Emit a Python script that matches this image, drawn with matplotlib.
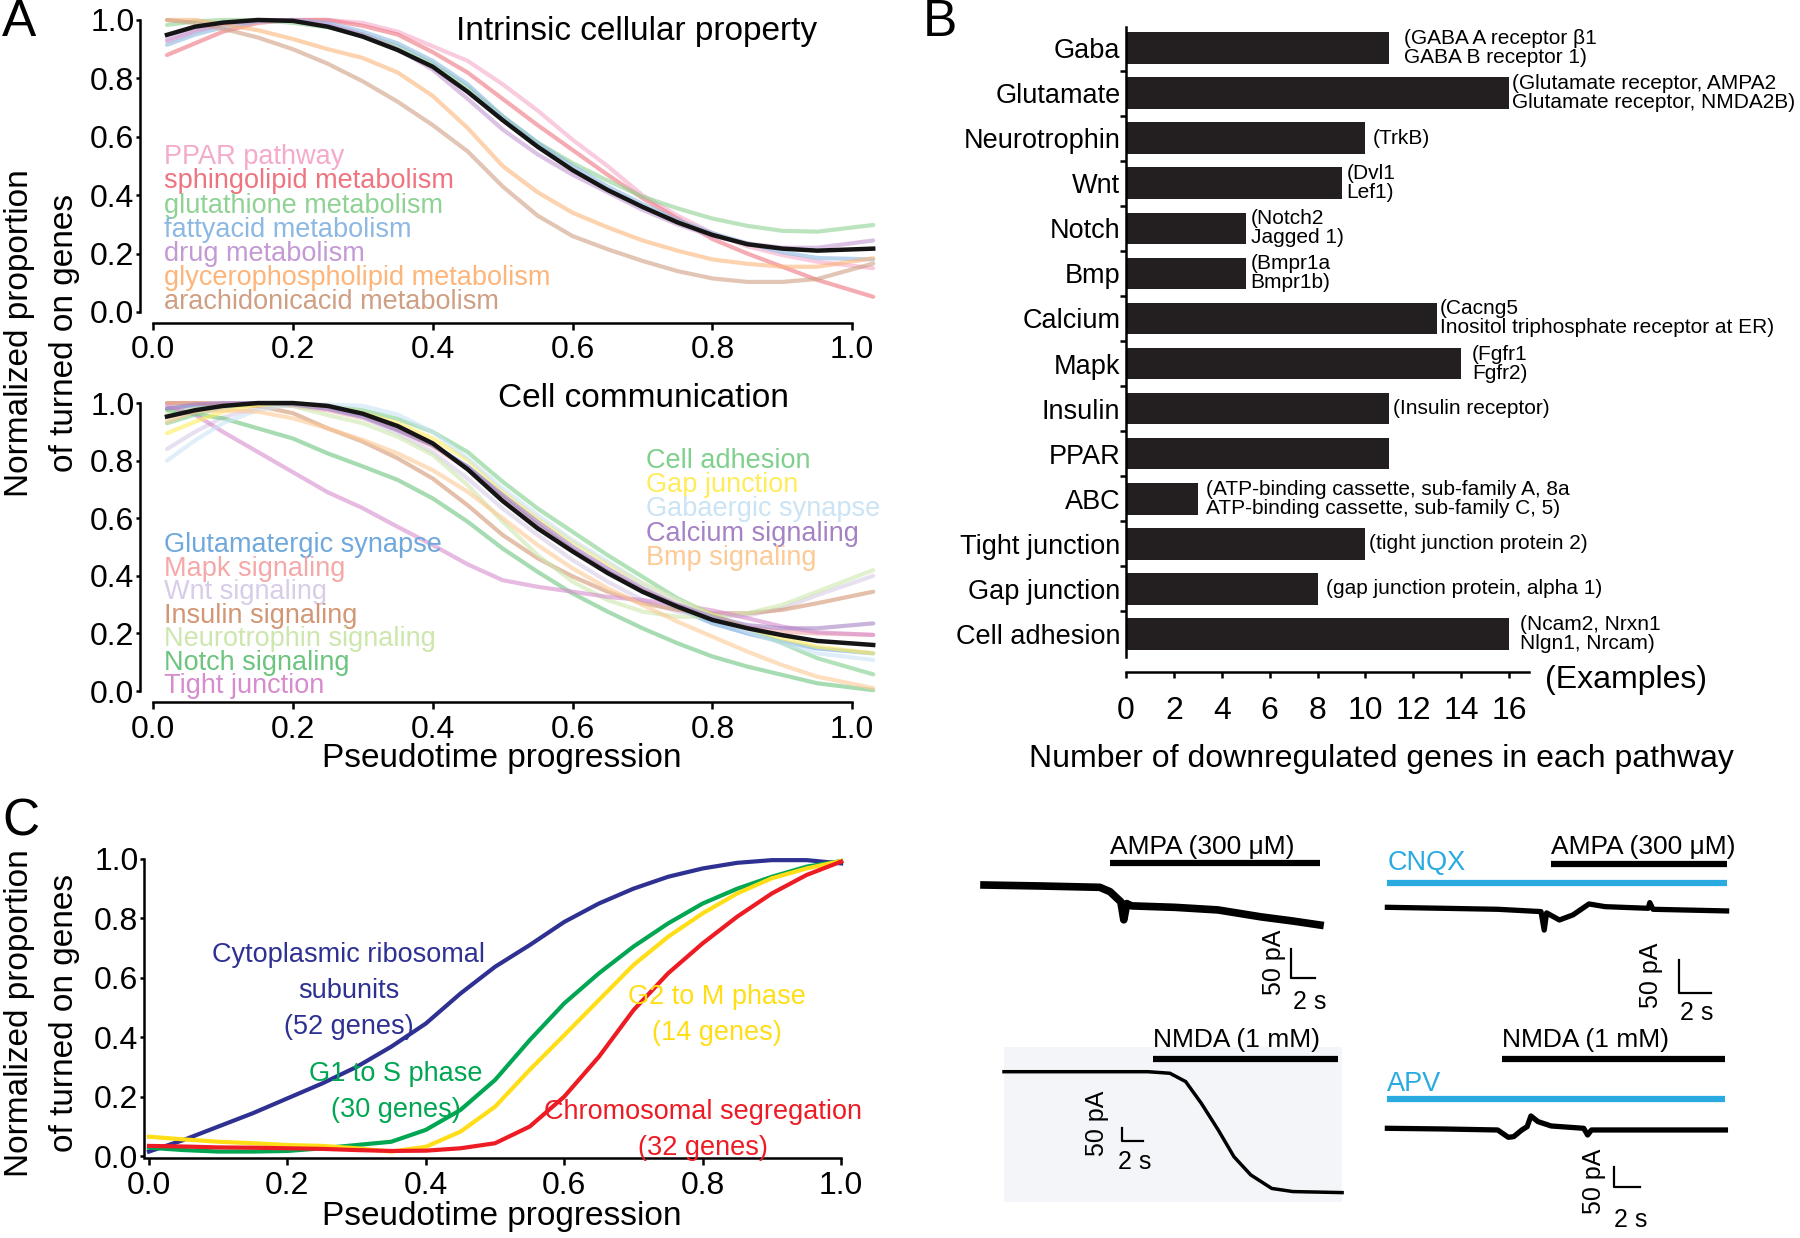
import numpy as np
import matplotlib
matplotlib.use('Agg')
import matplotlib.pyplot as plt

# ---------------- panel A : normalized proportion of turned-on genes ----------------
pseudotime_a = [0.02, 0.06, 0.1, 0.15, 0.2, 0.25, 0.3, 0.35, 0.4, 0.45, 0.5,
                0.55, 0.6, 0.65, 0.7, 0.75, 0.8, 0.85, 0.9, 0.95, 1.03]

intrinsic_names = ['PPAR pathway', 'sphingolipid metabolism', 'glutathione metabolism',
                   'fattyacid metabolism', 'drug metabolism',
                   'glycerophospholipid metabolism', 'arachidonicacid metabolism']
intrinsic_colors = ['#f5a9cb', '#ee7480', '#8fd293', '#8db8e2', '#c39ad4', '#fdb57a', '#cf9f84']
ppar_curve = [0.926, 0.96, 0.985, 1.0, 1.0, 1.0, 0.99, 0.96, 0.91, 0.86, 0.78,
              0.69, 0.59, 0.50, 0.40, 0.33, 0.27, 0.225, 0.195, 0.172, 0.15]
sphingo_curve = [0.88, 0.92, 0.96, 0.99, 1.0, 1.0, 0.98, 0.95, 0.89, 0.82, 0.73,
                 0.64, 0.555, 0.47, 0.39, 0.32, 0.25, 0.2, 0.155, 0.11, 0.052]
glutathione_curve = [0.983, 0.995, 1.0, 1.0, 0.99, 0.975, 0.95, 0.91, 0.85, 0.77, 0.67,
                     0.58, 0.51, 0.45, 0.395, 0.355, 0.32, 0.295, 0.278, 0.275, 0.298]
fattyacid_curve = [0.915, 0.95, 0.975, 0.995, 1.0, 0.99, 0.96, 0.92, 0.86, 0.78, 0.67,
                   0.58, 0.50, 0.43, 0.37, 0.315, 0.27, 0.235, 0.205, 0.185, 0.18]
drug_curve = [0.932, 0.965, 0.985, 0.997, 1.0, 0.985, 0.95, 0.9, 0.83, 0.73, 0.625,
              0.54, 0.47, 0.41, 0.35, 0.30, 0.26, 0.235, 0.22, 0.22, 0.245]
glycero_curve = [1.0, 1.0, 0.985, 0.965, 0.935, 0.90, 0.87, 0.82, 0.74, 0.63, 0.50,
                 0.41, 0.34, 0.29, 0.245, 0.21, 0.18, 0.165, 0.155, 0.155, 0.184]
arachidonic_curve = [1.0, 0.99, 0.97, 0.94, 0.90, 0.85, 0.79, 0.72, 0.64, 0.55, 0.43,
                     0.33, 0.26, 0.215, 0.175, 0.14, 0.115, 0.103, 0.103, 0.113, 0.166]
intrinsic_curves = [ppar_curve, sphingo_curve, glutathione_curve, fattyacid_curve,
                    drug_curve, glycero_curve, arachidonic_curve]
intrinsic_mean = [0.949, 0.977, 0.991, 1.0, 0.997, 0.977, 0.943, 0.897, 0.84, 0.754, 0.657,
                  0.566, 0.486, 0.418, 0.36, 0.307, 0.264, 0.232, 0.217, 0.21, 0.217]

comm_left_names = ['Glutamatergic synapse', 'Mapk signaling', 'Wnt signaling', 'Insulin signaling',
                   'Neurotrophin signaling', 'Notch signaling', 'Tight junction']
comm_left_colors = ['#6fa8dc', '#f6a8a8', '#d8cce8', '#d39674', '#cde6ad', '#6cc47f', '#d68ccd']
comm_right_names = ['Cell adhesion', 'Gap junction', 'Gabaergic synapse', 'Calcium signaling', 'Bmp signaling']
comm_right_colors = ['#7fd08c', '#ffec5c', '#cbe4f5', '#a582c4', '#fdc994']

glutamatergic_curve = [0.981, 0.99, 0.997, 1.0, 0.995, 0.98, 0.953, 0.906, 0.854, 0.779, 0.675,
                       0.577, 0.49, 0.414, 0.345, 0.287, 0.235, 0.2, 0.171, 0.148, 0.131]
mapk_curve = [1.0, 1.0, 1.0, 0.998, 0.99, 0.975, 0.948, 0.905, 0.85, 0.77, 0.67,
              0.575, 0.49, 0.415, 0.35, 0.295, 0.25, 0.222, 0.206, 0.2, 0.195]
wnt_curve = [0.84, 0.9, 0.95, 0.985, 0.995, 0.98, 0.95, 0.895, 0.83, 0.738, 0.634,
             0.542, 0.455, 0.38, 0.316, 0.276, 0.258, 0.262, 0.287, 0.333, 0.40]
insulin_curve = [1.0, 1.0, 0.995, 0.99, 0.965, 0.912, 0.866, 0.808, 0.738, 0.645, 0.542,
                 0.461, 0.398, 0.345, 0.305, 0.282, 0.27, 0.27, 0.282, 0.305, 0.345]
neurotrophin_curve = [0.963, 0.98, 0.99, 0.995, 0.99, 0.958, 0.93, 0.883, 0.82, 0.715, 0.588,
                      0.472, 0.38, 0.316, 0.276, 0.258, 0.258, 0.27, 0.299, 0.345, 0.42]
notch_curve = [0.976, 0.962, 0.947, 0.912, 0.877, 0.825, 0.78, 0.733, 0.669, 0.588, 0.495,
               0.414, 0.339, 0.276, 0.218, 0.166, 0.12, 0.085, 0.056, 0.027, 0.003]
tight_curve = [0.99, 0.96, 0.90, 0.83, 0.76, 0.69, 0.635, 0.57, 0.507, 0.44, 0.385,
               0.362, 0.345, 0.327, 0.316, 0.299, 0.28, 0.253, 0.224, 0.204, 0.195]
adhesion_curve = [0.93, 0.96, 0.985, 1.0, 1.0, 0.99, 0.975, 0.945, 0.90, 0.83, 0.727,
                  0.634, 0.553, 0.472, 0.397, 0.322, 0.264, 0.218, 0.166, 0.114, 0.058]
gap_curve = [0.895, 0.935, 0.97, 0.993, 0.995, 0.99, 0.965, 0.93, 0.877, 0.802, 0.692,
             0.6, 0.519, 0.443, 0.374, 0.316, 0.264, 0.218, 0.183, 0.154, 0.131]
gabaergic_curve = [0.80, 0.87, 0.93, 0.976, 0.995, 0.995, 0.99, 0.96, 0.90, 0.808, 0.704,
                   0.611, 0.524, 0.45, 0.374, 0.316, 0.258, 0.206, 0.166, 0.131, 0.108]
calcium_curve = [0.981, 0.995, 1.0, 1.0, 0.995, 0.98, 0.953, 0.906, 0.854, 0.779, 0.681,
                 0.588, 0.501, 0.426, 0.357, 0.299, 0.258, 0.229, 0.218, 0.218, 0.235]
bmp_curve = [0.935, 0.97, 0.975, 0.97, 0.947, 0.912, 0.872, 0.825, 0.767, 0.692, 0.6,
             0.507, 0.426, 0.357, 0.299, 0.241, 0.189, 0.137, 0.09, 0.05, 0.01]
comm_left_curves = [glutamatergic_curve, mapk_curve, wnt_curve, insulin_curve,
                    neurotrophin_curve, notch_curve, tight_curve]
comm_right_curves = [adhesion_curve, gap_curve, gabaergic_curve, calcium_curve, bmp_curve]
comm_mean = [0.953, 0.975, 0.99, 1.0, 1.0, 0.99, 0.963, 0.92, 0.86, 0.77, 0.66,
             0.565, 0.485, 0.41, 0.345, 0.293, 0.247, 0.218, 0.194, 0.174, 0.16]

# ---------------- panel B : downregulated genes per pathway ----------------
pathways = ['Gaba', 'Glutamate', 'Neurotrophin', 'Wnt', 'Notch', 'Bmp', 'Calcium', 'Mapk',
            'Insulin', 'PPAR', 'ABC', 'Tight junction', 'Gap junction', 'Cell adhesion']
gene_counts = [11, 16, 10, 9, 5, 5, 13, 14, 11, 11, 3, 10, 8, 16]
gene_examples = ['(GABA A receptor \u03b21\nGABA B receptor 1)',
                 '(Glutamate receptor, AMPA2\nGlutamate receptor, NMDA2B)',
                 '(TrkB)',
                 '(Dvl1\nLef1)',
                 '(Notch2\nJagged 1)',
                 '(Bmpr1a\nBmpr1b)',
                 '(Cacng5\nInositol triphosphate receptor at ER)',
                 '(Fgfr1\nFgfr2)',
                 '(Insulin receptor)',
                 '',
                 '(ATP-binding cassette, sub-family A, 8a\nATP-binding cassette, sub-family C, 5)',
                 '(tight junction protein 2)',
                 '(gap junction protein, alpha 1)',
                 '(Ncam2, Nrxn1\nNlgn1, Nrcam)']
# gap between bar end and its note (layout only)
note_gap = [0.6, 0.1, 0.3, 0.2, 0.2, 0.2, 0.1, 0.45, 0.15, 0.0, 0.35, 0.15, 0.35, 0.45]

# ---------------- panel C : cell-cycle / ribosome curves ----------------
pseudotime_c = [0.0, 0.05, 0.1, 0.15, 0.2, 0.25, 0.3, 0.35, 0.4, 0.45, 0.5,
                0.55, 0.6, 0.65, 0.7, 0.75, 0.8, 0.85, 0.9, 0.95, 1.0]
ribosome_curve = [0.015, 0.054, 0.099, 0.144, 0.194, 0.244, 0.3, 0.368, 0.446, 0.547, 0.637,
                  0.71, 0.788, 0.85, 0.9, 0.94, 0.968, 0.987, 0.996, 0.996, 0.985]
g1s_curve = [0.028, 0.02, 0.015, 0.015, 0.017, 0.026, 0.037, 0.048, 0.088, 0.155, 0.256,
             0.39, 0.514, 0.615, 0.705, 0.783, 0.85, 0.9, 0.94, 0.974, 0.993]
g2m_curve = [0.065, 0.056, 0.048, 0.043, 0.037, 0.034, 0.026, 0.015, 0.031, 0.082, 0.166,
             0.29, 0.407, 0.525, 0.643, 0.738, 0.817, 0.884, 0.935, 0.968, 0.993]
chromo_curve = [0.034, 0.032, 0.029, 0.028, 0.026, 0.024, 0.02, 0.017, 0.018, 0.026, 0.043,
                0.099, 0.2, 0.334, 0.491, 0.615, 0.716, 0.806, 0.884, 0.946, 0.991]
cycle_labels = ['Cytoplasmic ribosomal\nsubunits\n(52 genes)', 'G1 to S phase\n(30 genes)',
                'G2 to M phase\n(14 genes)', 'Chromosomal segregation\n(32 genes)']
cycle_colors = ['#2e3192', '#00a651', '#ffde17', '#ed1c24']

# ---------------- electrophysiology traces (time s, current pA) ----------------
ampa_t = [0, 4.7, 9.65, 10.5, 11.4, 11.65, 11.9, 12.3, 15.9, 19.5, 23.1, 25.7, 28.0]
ampa_i = [0, -1.7, -4, -11.5, -29, -60, -32, -36, -38.5, -43, -55, -62, -69]
ampa_on = (10.5, 28.0)

cnqx_t = [0, 3.5, 6.9, 9.6, 9.8, 9.95, 10.75, 11.6, 12.6, 13.6, 16.3, 16.4, 16.6, 21.2]
cnqx_i = [1.5, 0, -1.5, -5, -33, -7, -17.7, -10, 6.6, 2.5, 0, 8.6, -1.5, -4]
cnqx_on = (0, 21.2)
cnqx_ampa_on = (10.25, 21.2)

nmda_t = [0, 13.7, 15.8, 17.3, 18.8, 20.4, 21.9, 23.5, 25.5, 27.5, 32.2]
nmda_i = [0, 0, -6, -38, -122, -224, -327, -397, -449, -461, -465]
nmda_on = (14.2, 31.8)

apv_t = [0, 4.34, 8.48, 9.3, 9.72, 10.34, 10.75, 11.04, 11.58, 12.6, 15.1, 15.4, 15.7, 20.9, 26.0]
apv_i = [0, -1.7, -4.2, -22.5, -20.8, -4.2, 4.2, 30.8, 16.7, 5.8, 0, -16.7, -4.2, -4.2, -4.2]
apv_on = (0, 26.0)
apv_nmda_on = (8.81, 26.0)

# ------------------------------------------------------------------------------
plt.rcParams['font.family'] = ['Liberation Sans', 'DejaVu Sans']
plt.rcParams['axes.linewidth'] = 1.8
plt.rcParams['lines.solid_joinstyle'] = 'round'

W, H = 1800, 1238
fig = plt.figure(figsize=(W / 100, H / 100), dpi=100)


def px_axes(left, top, right, bottom):
    return fig.add_axes([left / W, 1 - bottom / H, (right - left) / W, (bottom - top) / H])


def ftext(x, y, s, **kw):
    fig.text(x / W, 1 - y / H, s, **kw)


def curve_axes(ax, xlim, ylim, xbound0=0):
    ax.set_xlim(*xlim)
    ax.set_ylim(*ylim)
    ax.patch.set_alpha(0)
    for s in ['top', 'right']:
        ax.spines[s].set_visible(False)
    ax.spines['left'].set_bounds(0, 1)
    ax.spines['bottom'].set_bounds(xbound0, 1)
    ticks = [0, 0.2, 0.4, 0.6, 0.8, 1.0]
    ax.set_xticks(ticks)
    ax.set_yticks(ticks)
    ax.set_xticklabels(['%.1f' % t for t in ticks])
    ax.set_yticklabels(['%.1f' % t for t in ticks])
    ax.tick_params(axis='x', length=5, width=1.8, pad=4, labelsize=23)
    ax.tick_params(axis='y', length=3, width=1.8, pad=1, labelsize=23)


# panel A top
axA1 = px_axes(140, 14, 876, 323)
curve_axes(axA1, (-0.0186, 1.034), (-0.0377, 1.0205))
for ys, c in zip(intrinsic_curves, intrinsic_colors):
    axA1.plot(pseudotime_a, ys, color=c, lw=3, alpha=0.6, clip_on=False, solid_capstyle='round')
axA1.plot(pseudotime_a, intrinsic_mean, color='#151515', lw=3.2, clip_on=False)
for i, (name, c) in enumerate(zip(intrinsic_names, intrinsic_colors)):
    axA1.text(0.016, 0.53 - 0.0827 * i, name, color=c, fontsize=19.5, va='center', ha='left')
axA1.text(0.691, 0.962, 'Intrinsic cellular property', fontsize=24, ha='center', va='center')

# panel A bottom
axA2 = px_axes(140, 397, 876, 702)
curve_axes(axA2, (-0.0186, 1.034), (-0.038, 1.021))
for ys, c in zip(comm_left_curves + comm_right_curves, comm_left_colors + comm_right_colors):
    axA2.plot(pseudotime_a, ys, color=c, lw=3, alpha=0.6, clip_on=False, solid_capstyle='round')
axA2.plot(pseudotime_a, comm_mean, color='#151515', lw=3.2, clip_on=False)
for i, (name, c) in enumerate(zip(comm_left_names, comm_left_colors)):
    axA2.text(0.016, 0.507 - 0.0817 * i, name, color=c, fontsize=19.5, va='center', ha='left')
for i, (name, c) in enumerate(zip(comm_right_names, comm_right_colors)):
    axA2.text(0.705, 0.80 - 0.0845 * i, name, color=c, fontsize=19.5, va='center', ha='left')
axA2.text(0.701, 1.017, 'Cell communication', fontsize=24, ha='center', va='center')

ftext(42, 333, 'Normalized proportion\nof turned on genes', rotation=90, fontsize=24,
      ha='center', va='center', linespacing=1.55)
ftext(502, 758, 'Pseudotime progression', fontsize=24, ha='center', va='center')

# panel B
axB = px_axes(1126, 27, 1529, 657)
ypos = np.arange(len(pathways))
axB.barh(ypos, gene_counts, height=0.7, color='#231f20')
axB.set_xlim(0, 16.83)
axB.set_ylim(13.51, -0.466)
axB.patch.set_alpha(0)
for s in ['top', 'right']:
    axB.spines[s].set_visible(False)
axB.spines['bottom'].set_position(('outward', 10.8))
axB.set_xticks(range(0, 17, 2))
axB.tick_params(axis='x', length=4, width=1.8, pad=13, labelsize=23)
axB.set_yticks(ypos)
axB.set_yticklabels(pathways)
axB.tick_params(axis='y', length=0, pad=4, labelsize=19.5)
axB.set_yticks(np.arange(0.5, 13, 1), minor=True)
axB.tick_params(axis='y', which='minor', length=4, width=1.8)
for y, v, note, gap in zip(ypos, gene_counts, gene_examples, note_gap):
    if note:
        axB.text(v + gap, y, note, fontsize=15, va='center', ha='left',
                 linespacing=1.0, clip_on=False)
ftext(1626, 680, '(Examples)', fontsize=23, ha='center', va='center')
ftext(1381, 759, 'Number of downregulated genes in each pathway', fontsize=23,
      ha='center', va='center')

# panel C
axC = px_axes(144, 853, 846, 1158)
curve_axes(axC, (-0.0072, 1.007), (-0.0067, 1.02), xbound0=-0.0072)
for ys, c in zip([ribosome_curve, g1s_curve, g2m_curve, chromo_curve], cycle_colors):
    axC.plot(pseudotime_c, ys, color=c, lw=3, clip_on=False)
label_pos = [(0.288, 0.556), (0.357, 0.215), (0.82, 0.475), (0.80, 0.088)]
for (x, y), s, c in zip(label_pos, cycle_labels, cycle_colors):
    axC.text(x, y, s, color=c, fontsize=19.5, ha='center', va='center', linespacing=1.5)
ftext(42, 1013, 'Normalized proportion\nof turned on genes', rotation=90, fontsize=24,
      ha='center', va='center', linespacing=1.55)
ftext(502, 1217, 'Pseudotime progression', fontsize=24, ha='center', va='center')

# panel letters
ftext(2, 23, 'A', fontsize=37, ha='left', va='center')
ftext(923, 23, 'B', fontsize=37, ha='left', va='center')
ftext(2, 822, 'C', fontsize=37, ha='left', va='center')


# traces
def trace_axes(ox, oy, px_per_s, px_per_pa, tlim, ilim):
    ax = px_axes(ox + tlim[0] * px_per_s, oy - ilim[1] * px_per_pa,
                 ox + tlim[1] * px_per_s, oy - ilim[0] * px_per_pa)
    ax.set_xlim(*tlim)
    ax.set_ylim(*ilim)
    ax.axis('off')
    ax.patch.set_alpha(0)
    return ax


def app_bar(ax, span, y, color='black'):
    ax.plot(span, [y, y], color=color, lw=4.5, solid_capstyle='butt', clip_on=False)


def scale_bar(ax, t, i, pa_xy, s_xy):
    ax.plot([t, t, t + 2], [i + 50, i, i], color='black', lw=1.6, clip_on=False)
    ax.text(pa_xy[0], pa_xy[1], '50 pA', rotation=90, ha='center', va='center', fontsize=18)
    ax.text(s_xy[0], s_xy[1], '2 s', ha='center', va='center', fontsize=18)


cyan = '#29abe2'

ax1 = trace_axes(984, 885, 12, 0.58, (-1, 30), (-230, 90))
ax1.plot(ampa_t, ampa_i, color='black', lw=5.5, clip_on=False)
app_bar(ax1, ampa_on, 38)
ax1.text(ampa_on[0], 65, 'AMPA (300 \u03bcM)', fontsize=19, ha='left', va='center')
scale_bar(ax1, 25.6, -160, (24.2, -134), (27.1, -202))

ax2 = trace_axes(1387.4, 908.3, 16, 0.66, (-1, 24), (-180, 120))
ax2.plot(cnqx_t, cnqx_i, color='black', lw=3.8, clip_on=False)
app_bar(ax2, cnqx_on, 38, cyan)
app_bar(ax2, cnqx_ampa_on, 67)
ax2.text(cnqx_on[0], 69, 'CNQX', color=cyan, fontsize=19.5, ha='left', va='center')
ax2.text(cnqx_ampa_on[0], 93, 'AMPA (300 \u03bcM)', fontsize=19, ha='left', va='center')
scale_bar(ax2, 18.25, -128, (16.5, -101), (19.3, -159))

ax3 = trace_axes(1004, 1071.7, 10.5, 0.26, (-1, 34), (-520, 160))
ax3.fill_between([nmda_t[0], nmda_t[-1]], -500, 93.6, color='#f3f5f9', lw=0, zorder=0)
ax3.plot(nmda_t, nmda_i, color='black', lw=2.5, clip_on=False)
app_bar(ax3, nmda_on, 48.7)
ax3.text(nmda_on[0], 122, 'NMDA (1 mM)', fontsize=19, ha='left', va='center')
scale_bar(ax3, 11.26, -268, (8.86, -199), (12.44, -346))

ax4 = trace_axes(1387.4, 1128.3, 13, 0.4, (-1, 28), (-250, 260))
ax4.plot(apv_t, apv_i, color='black', lw=3.8, clip_on=False)
app_bar(ax4, apv_on, 72.5, cyan)
app_bar(ax4, apv_nmda_on, 173)
ax4.text(apv_on[0], 111, 'APV', color=cyan, fontsize=19.5, ha='left', va='center')
ax4.text(apv_nmda_on[0], 221, 'NMDA (1 mM)', fontsize=19, ha='left', va='center')
scale_bar(ax4, 17.45, -146, (15.9, -133), (18.7, -229))

fig.savefig('out.png', dpi=100)
